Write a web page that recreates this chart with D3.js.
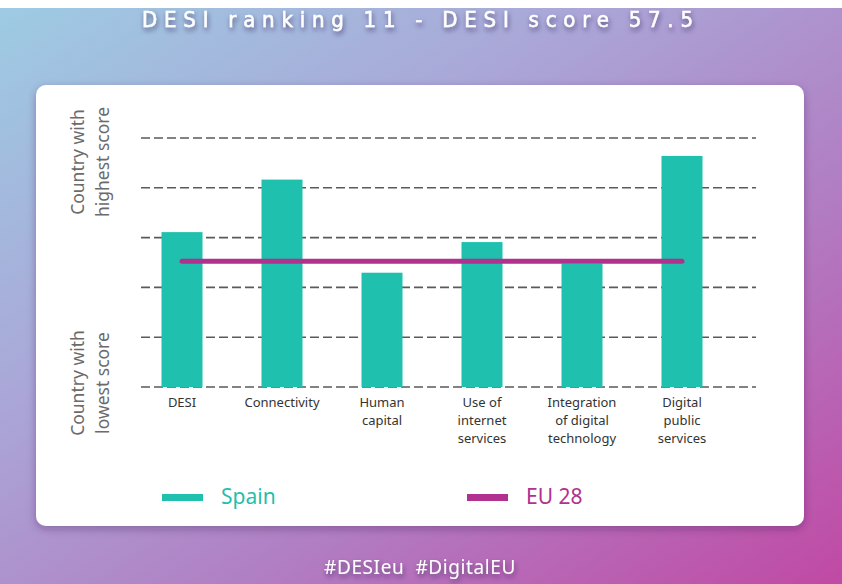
<!DOCTYPE html>
<html>
<head>
<meta charset="utf-8">
<script src="https://cdn.jsdelivr.net/npm/d3@7"></script>
<style>
  html, body { margin: 0; padding: 0; background: #fff; }
  svg { display: block; }
</style>
</head>
<body>
<div id="chart"></div>
<script>
const title = 'DESI ranking 11 - DESI score 57.5'
const categories = ['DESI', 'Connectivity', 'Human capital', 'Use of internet services', 'Integration of digital technology', 'Digital public services']
const categoryLines = [['DESI'], ['Connectivity'], ['Human', 'capital'], ['Use of', 'internet', 'services'], ['Integration', 'of digital', 'technology'], ['Digital', 'public', 'services']]
// 0 = country with lowest score, 100 = country with highest score
const spain = [62.2, 83.3, 45.9, 58.2, 49.6, 92.8]
const eu28 = 50.5
const gridValues = [0, 20, 40, 60, 80, 100]
const legendItems = ['Spain', 'EU 28']
const hashtags = '#DESIeu  #DigitalEU'

const width = 842
const height = 584
const teal = '#1fc0ad'
const magenta = '#b1318f'

const svg = d3.select('#chart').append('svg')
  .attr('width', width)
  .attr('height', height)

const defs = svg.append('defs')
const bg = defs.append('linearGradient')
  .attr('id', 'bg')
  .attr('x1', 0).attr('y1', 0).attr('x2', 1).attr('y2', 1)
bg.selectAll('stop')
  .data([[0, '#9dcbe3'], [0.35, '#aaa6d7'], [0.65, '#b17ec3'], [1, '#c049a4']])
  .enter().append('stop')
  .attr('offset', d => d[0])
  .attr('stop-color', d => d[1])

defs.append('filter').attr('id', 'cardShadow')
  .attr('x', -0.05).attr('y', -0.05).attr('width', 1.1).attr('height', 1.15)
  .append('feDropShadow')
  .attr('dx', 0).attr('dy', 3).attr('stdDeviation', 4)
  .attr('flood-color', '#3a1a50').attr('flood-opacity', 0.35)

defs.append('filter').attr('id', 'textShadow')
  .attr('x', -0.1).attr('y', -0.3).attr('width', 1.2).attr('height', 1.8)
  .append('feDropShadow')
  .attr('dx', 1).attr('dy', 3).attr('stdDeviation', 2.5)
  .attr('flood-color', '#2a2050').attr('flood-opacity', 0.6)

// background
svg.append('rect')
  .attr('x', 0).attr('y', 8)
  .attr('width', width).attr('height', height - 8)
  .attr('fill', 'url(#bg)')

// title
svg.append('text')
  .attr('x', 142)
  .attr('y', 27)
  .attr('textLength', 551)
  .attr('lengthAdjust', 'spacing')
  .attr('fill', '#fff')
  .attr('stroke', '#fff')
  .attr('stroke-width', 0.5)
  .attr('font-family', 'DejaVu Sans Condensed, DejaVu Sans')
  .attr('font-size', 22)
  .attr('filter', 'url(#textShadow)')
  .text(title)

// white card
svg.append('rect')
  .attr('x', 36).attr('y', 85)
  .attr('width', 768).attr('height', 441)
  .attr('rx', 10)
  .attr('fill', '#fff')
  .attr('filter', 'url(#cardShadow)')

const x = d3.scaleBand()
  .domain(categories)
  .range([132, 732])
  .paddingInner(0.59)
  .paddingOuter(0.295)

const y = d3.scaleLinear()
  .domain([0, 100])
  .range([387, 138])

// dashed gridlines
svg.append('g')
  .selectAll('line')
  .data(gridValues)
  .enter().append('line')
  .attr('x1', 141)
  .attr('x2', 756)
  .attr('y1', d => y(d))
  .attr('y2', d => y(d))
  .attr('stroke', '#5a5a5a')
  .attr('stroke-width', 1.6)
  .attr('stroke-dasharray', '9,4')

// Spain bars
svg.append('g')
  .selectAll('rect')
  .data(spain)
  .enter().append('rect')
  .attr('x', (d, i) => x(categories[i]))
  .attr('y', d => y(d))
  .attr('width', x.bandwidth())
  .attr('height', d => y(0) - y(d))
  .attr('fill', teal)

// EU 28 line
svg.append('line')
  .attr('x1', x(categories[0]) + x.bandwidth() / 2)
  .attr('x2', x(categories[categories.length - 1]) + x.bandwidth() / 2)
  .attr('y1', y(eu28))
  .attr('y2', y(eu28))
  .attr('stroke', magenta)
  .attr('stroke-width', 5)
  .attr('stroke-linecap', 'round')

// x axis with multi-line labels
const xAxis = svg.append('g')
  .attr('transform', `translate(0, ${y(0)})`)
  .call(d3.axisBottom(x).tickSize(0).tickPadding(0))
xAxis.select('.domain').remove()
xAxis.selectAll('.tick text')
  .attr('fill', '#333')
  .attr('font-family', 'Noto Sans, sans-serif')
  .attr('font-size', 13)
  .attr('dy', null)
  .attr('y', 0)
  .text(null)
  .each(function (d, i) {
    const t = d3.select(this)
    categoryLines[i].forEach((line, j) => {
      t.append('tspan')
        .attr('x', 0)
        .attr('y', 20 + j * 18)
        .text(line)
    })
  })

// y axis side labels
const sideLabels = [
  { lines: ['Country with', 'highest score'], cy: 162 },
  { lines: ['Country with', 'lowest score'], cy: 383 }
]
sideLabels.forEach(lbl => {
  lbl.lines.forEach((line, j) => {
    svg.append('text')
      .attr('transform', `translate(${84 + j * 25}, ${lbl.cy}) rotate(-90)`)
      .attr('text-anchor', 'middle')
      .attr('fill', '#6b6b6b')
      .attr('font-family', 'Noto Sans, sans-serif')
      .attr('font-size', 17.5)
      .text(line)
  })
})

// legend
const legend = svg.append('g')
  .selectAll('g')
  .data(legendItems)
  .enter().append('g')
  .attr('transform', (d, i) => `translate(${162 + i * 305}, 494)`)
legend.append('rect')
  .attr('width', 41)
  .attr('height', 7)
  .attr('fill', (d, i) => i === 0 ? teal : magenta)
legend.append('text')
  .attr('x', 59)
  .attr('y', 10)
  .attr('fill', (d, i) => i === 0 ? teal : magenta)
  .attr('font-family', 'Noto Sans, sans-serif')
  .attr('font-size', 21)
  .text(d => d)

// hashtags
svg.append('text')
  .attr('x', 420)
  .attr('y', 574)
  .attr('text-anchor', 'middle')
  .attr('fill', '#fff')
  .attr('font-family', 'Noto Sans, sans-serif')
  .attr('font-size', 19)
  .attr('letter-spacing', 0.6)
  .attr('filter', 'url(#textShadow)')
  .style('white-space', 'pre')
  .text(hashtags)
</script>
</body>
</html>
